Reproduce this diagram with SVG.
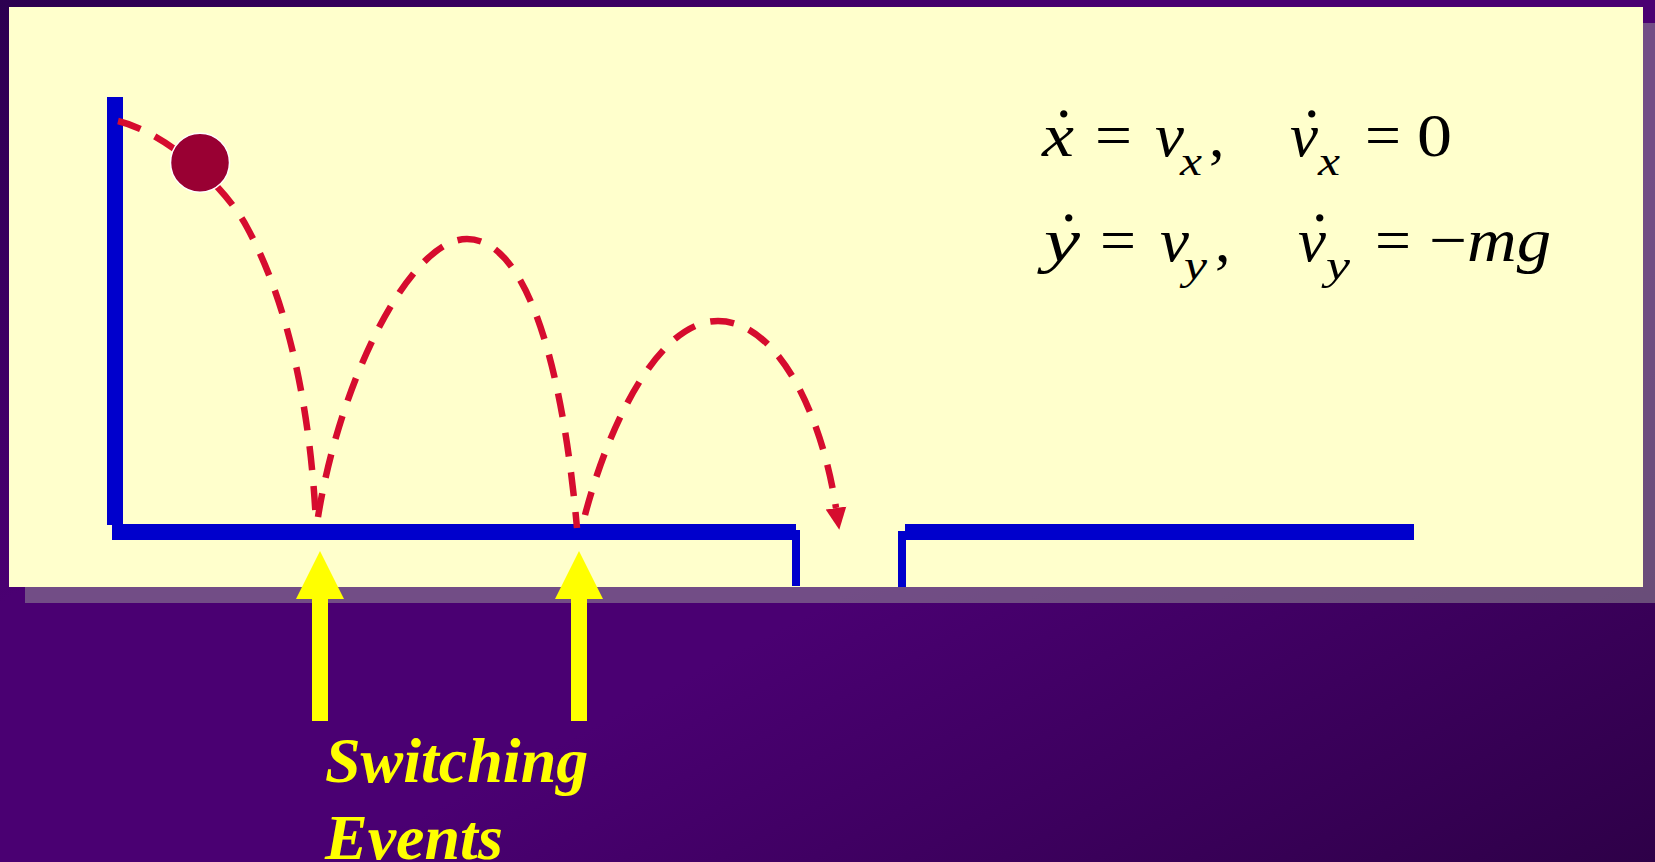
<svg xmlns="http://www.w3.org/2000/svg" width="1655" height="862" viewBox="0 0 1655 862">
  <defs>
    <linearGradient id="bg" x1="0" y1="0" x2="1" y2="1">
      <stop offset="0" stop-color="#2c0050"/>
      <stop offset="0.35" stop-color="#4a0072"/>
      <stop offset="0.6" stop-color="#4a0072"/>
      <stop offset="1" stop-color="#2e0048"/>
    </linearGradient>
    <marker id="arrow" markerUnits="userSpaceOnUse" markerWidth="22" markerHeight="22" refX="0" refY="9" orient="auto" viewBox="0 0 19 18">
      <polygon points="0,0 19,9 0,18" fill="#d60c2e"/>
    </marker>
    <style>
      .bar { fill: #0000cc; }
      .traj { fill: none; stroke: #d60c2e; stroke-width: 6.5; stroke-dasharray: 24 16; }
      .ev { fill: #ffff00; }
      .eq { font-family: "Liberation Serif", "Times New Roman", serif; font-size: 62px; fill: #000; }
      .i { font-style: italic; }
      .n { font-style: normal; }
      .s { font-style: italic; font-size: 43px; }
      .lbl { font-family: "Liberation Serif", "Times New Roman", serif; font-style: italic; font-weight: bold; font-size: 64px; fill: #ffff00; }
    </style>
  </defs>

  <rect x="0" y="0" width="1655" height="862" fill="url(#bg)"/>
  <rect id="shadow" x="25" y="23" width="1640" height="580" fill="#999999" fill-opacity="0.5"/>
  <rect id="panel" x="9" y="7" width="1634" height="580" fill="#ffffcc"/>

  <g id="ground-left">
    <rect class="bar" x="107" y="97" width="16" height="428"/>
    <rect class="bar" x="112" y="524" width="684" height="16"/>
    <rect class="bar" x="792" y="530" width="8" height="56"/>
  </g>
  <g id="ground-right">
    <rect class="bar" x="898" y="531" width="8" height="56"/>
    <rect class="bar" x="905" y="524" width="509" height="16"/>
  </g>

  <g id="connectors">
    <path class="traj" d="M118,121 C163,132 221.7,181 246.7,226.7 C286.7,299.7 310,403 316,523"/>
    <path class="traj" d="M318,517 C340,380 410,239 467,239 C520,239 560,340 577,528"/>
    <path class="traj" d="M585,515 C610,420 660,321 718,321 C778,321 822,415 836,508" marker-end="url(#arrow)"/>
  </g>

  <g id="ball">
    <circle cx="200" cy="162.7" r="29.5" fill="#990033" stroke="#ffffff" stroke-width="1.5"/>
  </g>

  <g id="event-arrow-1">
    <polygon class="ev" points="320,551 344,599 328,599 328,721 312,721 312,599 296,599"/>
  </g>
  <g id="event-arrow-2">
    <polygon class="ev" points="579,551 603,599 587,599 587,721 571,721 571,599 555,599"/>
  </g>

  <g id="label">
    <text class="lbl" x="325" y="782">Switching</text>
    <text class="lbl" x="325" y="859">Events</text>
  </g>

  <g id="equations">
    <text class="eq"><tspan class="i" x="1042" y="156" textLength="32" lengthAdjust="spacingAndGlyphs">x</tspan><tspan class="n" x="1056" y="117">.</tspan><tspan class="n" x="1095" y="156" textLength="37" lengthAdjust="spacingAndGlyphs">=</tspan><tspan class="i" x="1155" y="156" textLength="29" lengthAdjust="spacingAndGlyphs">v</tspan><tspan class="s" x="1180" y="175" textLength="22" lengthAdjust="spacingAndGlyphs">x</tspan><tspan class="n" x="1209" y="156">,</tspan><tspan class="i" x="1290" y="156" textLength="28" lengthAdjust="spacingAndGlyphs">v</tspan><tspan class="n" x="1304" y="117">.</tspan><tspan class="s" x="1318" y="175" textLength="22" lengthAdjust="spacingAndGlyphs">x</tspan><tspan class="n" x="1365" y="156" textLength="36" lengthAdjust="spacingAndGlyphs">=</tspan><tspan class="n" x="1417" y="156" textLength="35" lengthAdjust="spacingAndGlyphs">0</tspan></text>
    <text class="eq"><tspan class="i" x="1044" y="261" textLength="36" lengthAdjust="spacingAndGlyphs">y</tspan><tspan class="n" x="1061" y="221">.</tspan><tspan class="n" x="1100" y="261" textLength="36" lengthAdjust="spacingAndGlyphs">=</tspan><tspan class="i" x="1160" y="261" textLength="29" lengthAdjust="spacingAndGlyphs">v</tspan><tspan class="s" x="1184" y="279" textLength="23" lengthAdjust="spacingAndGlyphs">y</tspan><tspan class="n" x="1215" y="261">,</tspan><tspan class="i" x="1298" y="261" textLength="28" lengthAdjust="spacingAndGlyphs">v</tspan><tspan class="n" x="1312" y="221">.</tspan><tspan class="s" x="1326" y="279" textLength="24" lengthAdjust="spacingAndGlyphs">y</tspan><tspan class="n" x="1375" y="261" textLength="36" lengthAdjust="spacingAndGlyphs">=</tspan><tspan class="n" x="1429" y="261" textLength="38" lengthAdjust="spacingAndGlyphs">−</tspan><tspan class="i" x="1467" y="261" textLength="84" lengthAdjust="spacingAndGlyphs">mg</tspan></text>
  </g>
</svg>
